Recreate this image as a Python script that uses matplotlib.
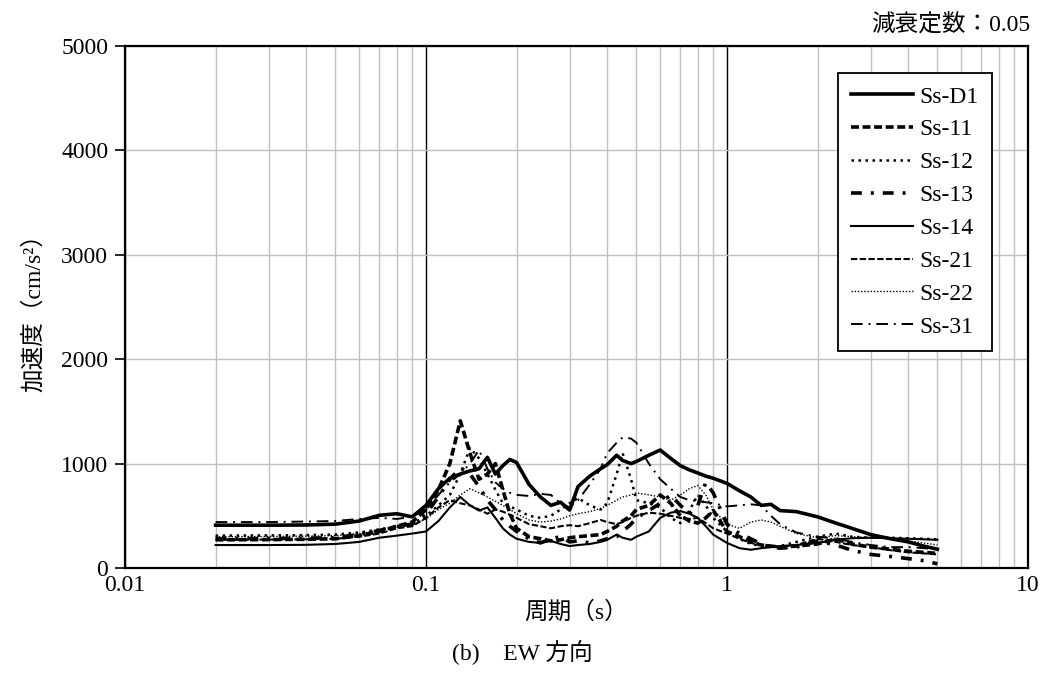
import matplotlib
matplotlib.use("Agg")
import matplotlib.pyplot as plt
from matplotlib.ticker import FixedLocator, NullFormatter

plt.rcParams['font.family'] = ['Liberation Serif', 'Noto Sans CJK JP', 'DejaVu Sans']

periods = [0.02, 0.03, 0.04, 0.05, 0.06, 0.07, 0.08, 0.09, 0.1, 0.11, 0.12, 0.13, 0.14, 0.15,
           0.16, 0.17, 0.18, 0.19, 0.2, 0.22, 0.24, 0.26, 0.28, 0.3, 0.32, 0.35, 0.38, 0.4,
           0.43, 0.45, 0.48, 0.5, 0.55, 0.6, 0.65, 0.7, 0.75, 0.8, 0.85, 0.9, 1.0, 1.1, 1.2,
           1.3, 1.4, 1.5, 1.7, 2.0, 2.3, 2.6, 3.0, 3.5, 4.0, 4.5, 5.0]

ss_d1 = [410, 410, 412, 420, 450, 505, 520, 490, 600, 760, 860, 900, 930, 950,
         1060, 900, 980, 1040, 1010, 800, 680, 600, 630, 555, 780, 880, 950, 990,
         1080, 1030, 1000, 1020, 1080, 1130, 1050, 980, 940, 910, 880, 860, 810, 740, 680,
         600, 610, 550, 540, 490, 430, 380, 320, 280, 250, 210, 180]
ss_11 = [270, 272, 275, 280, 310, 350, 400, 440, 560, 750, 1000, 1410, 1100, 850,
         900, 1000, 750, 520, 380, 300, 280, 260, 270, 290, 300, 310, 320, 350,
         400, 450, 500, 560, 600, 700, 620, 500, 450, 430, 480, 550, 350, 300, 250,
         220, 210, 200, 210, 230, 280, 230, 200, 180, 160, 150, 140]
ss_12 = [310, 312, 315, 320, 340, 370, 400, 420, 500, 600, 700, 900, 1150, 1050,
         900, 750, 620, 590, 560, 500, 480, 500, 560, 620, 670, 600, 560, 620,
         900, 1100, 850, 650, 620, 580, 480, 430, 550, 700, 600, 480, 350, 280, 230,
         210, 200, 210, 250, 300, 330, 300, 290, 290, 285, 280, 275]
ss_13 = [280, 282, 285, 290, 320, 360, 400, 420, 520, 680, 850, 960, 900, 780,
         650, 560, 460, 400, 350, 280, 240, 280, 300, 250, 260, 240, 260, 280,
         300, 350, 420, 480, 550, 620, 700, 600, 520, 600, 820, 720, 420, 330, 280,
         230, 200, 190, 200, 260, 220, 170, 130, 110, 90, 70, 40]
ss_14 = [220, 220, 222, 230, 250, 290, 310, 330, 350, 450, 580, 680, 600, 550,
         580, 480, 380, 320, 280, 250, 240, 260, 230, 210, 220, 230, 250, 270,
         320, 290, 270, 300, 350, 480, 530, 545, 520, 480, 400, 320, 240, 190, 175,
         190, 200, 210, 220, 240, 270, 285, 290, 285, 280, 275, 270]
ss_21 = [270, 272, 275, 280, 300, 330, 380, 400, 480, 580, 650, 620, 600, 560,
         520, 560, 540, 510, 480, 420, 400, 380, 400, 410, 400, 430, 460, 440,
         420, 440, 480, 500, 530, 520, 500, 480, 470, 480, 430, 380, 330, 280, 240,
         220, 210, 200, 220, 280, 250, 220, 200, 170, 150, 140, 130]
ss_22 = [300, 302, 305, 310, 330, 360, 390, 410, 470, 560, 620, 700, 760, 720,
         680, 640, 600, 560, 520, 460, 440, 450, 470, 500, 520, 540, 570, 600,
         650, 680, 700, 720, 700, 680, 650, 700, 760, 790, 700, 560, 420, 380, 440,
         460, 440, 400, 330, 290, 310, 300, 290, 280, 260, 240, 220]
ss_31 = [440, 440, 445, 450, 470, 480, 470, 490, 560, 700, 820, 900, 1000, 1130,
         950, 820, 760, 720, 700, 690, 710, 700, 620, 580, 650, 800, 950, 1100,
         1200, 1250, 1240, 1200, 1000, 850, 760, 680, 650, 640, 630, 620, 590, 600, 610,
         600, 500, 420, 340, 300, 280, 250, 220, 200, 200, 190, 180]

labels = ['Ss-D1', 'Ss-11', 'Ss-12', 'Ss-13', 'Ss-14', 'Ss-21', 'Ss-22', 'Ss-31']
series = [ss_d1, ss_11, ss_12, ss_13, ss_14, ss_21, ss_22, ss_31]

x_ticks = [0.01, 0.1, 1, 10]
x_tick_labels = ['0.01', '0.1', '1', '10']
y_ticks = [0, 1000, 2000, 3000, 4000, 5000]

styles = [
    dict(linestyle='-', linewidth=2.6),
    dict(linestyle=(0, (2.2, 1.0)), linewidth=2.6),
    dict(linestyle=(0, (1.0, 1.8)), linewidth=1.8),
    dict(linestyle=(0, (3.0, 2.5, 0.8, 2.5)), linewidth=2.6),
    dict(linestyle='-', linewidth=1.5),
    dict(linestyle=(0, (3.0, 1.2)), linewidth=1.5),
    dict(linestyle=(0, (1.0, 1.3)), linewidth=1.0),
    dict(linestyle=(0, (6.0, 3.0, 1.0, 3.0)), linewidth=1.4),
]

FS = 17

fig = plt.figure(figsize=(10.44, 6.93), dpi=100)
ax = fig.add_axes([125 / 1044, 1 - 568 / 693, (1028 - 125) / 1044, (568 - 46) / 693])

ax.set_xscale('log')
ax.set_xlim(0.01, 10)
ax.set_ylim(0, 5000)

minor = [m * 10.0 ** e for e in (-2, -1, 0) for m in range(2, 10)]
ax.xaxis.set_minor_locator(FixedLocator(minor))
ax.xaxis.set_minor_formatter(NullFormatter())
ax.set_xticks(x_ticks)
ax.set_xticklabels(x_tick_labels)
ax.set_yticks(y_ticks)

ax.grid(which='minor', axis='x', color='#c0c0c0', linewidth=1.0)
ax.grid(which='major', axis='x', color='black', linewidth=1.0)
ax.grid(which='major', axis='y', color='#c0c0c0', linewidth=1.0)
ax.set_axisbelow(True)

for vals, lab, st in zip(series, labels, styles):
    ax.plot(periods, vals, color='black', label=lab, **st)

for s in ax.spines.values():
    s.set_linewidth(1.6)
    s.set_color('black')

ax.tick_params(axis='x', which='both', length=0, labelsize=FS, pad=5)
ax.tick_params(axis='y', which='major', length=7, width=1.2, labelsize=FS, pad=5)

ax.set_xlabel('周期（s）', fontsize=FS, labelpad=4)
ax.set_ylabel('加速度（cm/s²）', fontsize=FS, labelpad=12)

leg = ax.legend(loc='upper right', bbox_to_anchor=(992 / 1044, 1 - 73 / 693),
                bbox_transform=fig.transFigure, borderaxespad=0,
                fancybox=False, edgecolor='black', framealpha=1,
                fontsize=FS, handlelength=2.6, handletextpad=0.3,
                labelspacing=0.48, borderpad=0.55)
leg.get_frame().set_linewidth(1.3)

fig.text(1030 / 1044, 1 - 25 / 693, '減衰定数：0.05', ha='right', va='center', fontsize=FS)
fig.text(0.5, 1 - 652 / 693, '(b)　EW 方向', ha='center', va='center', fontsize=FS)

fig.savefig('out.png', dpi=100)
